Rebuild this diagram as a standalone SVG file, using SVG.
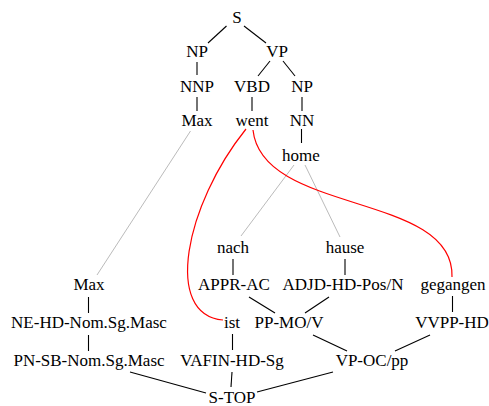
<svg xmlns="http://www.w3.org/2000/svg" width="489" height="406" viewBox="0 0 489 406">
<style>
text{font-family:"Liberation Serif","Times New Roman",serif;font-size:17px;fill:#000;text-anchor:middle}
.e line{stroke:#000;stroke-width:1.1}
.g line{stroke:#bbb;stroke-width:1}
.r path{stroke:#f00;stroke-width:1.2;fill:none}
</style>
<rect width="489" height="406" fill="#fff"/>
<g id="connectors">
<g class="e">
<line x1="226.5" y1="26" x2="208" y2="43"/>
<line x1="244" y1="26" x2="266" y2="43"/>
<line x1="197" y1="62" x2="197" y2="75"/>
<line x1="270" y1="61" x2="258" y2="76"/>
<line x1="283" y1="61" x2="295" y2="76"/>
<line x1="197" y1="97" x2="197" y2="111"/>
<line x1="252" y1="97" x2="252" y2="111"/>
<line x1="302" y1="97" x2="302" y2="111"/>
<line x1="301.5" y1="129" x2="301.5" y2="143"/>
<line x1="233" y1="259" x2="233" y2="275"/>
<line x1="345" y1="259" x2="345" y2="275"/>
<line x1="88.5" y1="297" x2="88.5" y2="313"/>
<line x1="88.5" y1="335" x2="88.5" y2="351"/>
<line x1="249" y1="297" x2="275" y2="313"/>
<line x1="329" y1="297" x2="305" y2="313"/>
<line x1="452.5" y1="296" x2="452.5" y2="312"/>
<line x1="232.5" y1="334" x2="232.5" y2="350"/>
<line x1="313" y1="335" x2="347" y2="351"/>
<line x1="430" y1="335" x2="395" y2="351"/>
<line x1="130" y1="372" x2="206" y2="393"/>
<line x1="232" y1="372" x2="231" y2="387"/>
<line x1="333" y1="372" x2="257" y2="392"/>
</g>
<g class="g">
<line x1="190.5" y1="131" x2="97" y2="275"/>
<line x1="294" y1="165" x2="241" y2="236"/>
<line x1="305" y1="165" x2="340" y2="237"/>
</g>
<g class="r">
<path d="M246,129 C185,205 163,315 223,320"/>
<path d="M253,130 C262,215 455,192 452,277"/>
</g>
</g>
<g id="n_S"><text x="237" y="23">S</text></g>
<g id="n_NP1"><text x="197" y="57">NP</text></g>
<g id="n_VP"><text x="277" y="57">VP</text></g>
<g id="n_NNP"><text x="197" y="91.5">NNP</text></g>
<g id="n_VBD"><text x="252" y="91.5">VBD</text></g>
<g id="n_NP2"><text x="302" y="91.5">NP</text></g>
<g id="n_Max1"><text x="197" y="126">Max</text></g>
<g id="n_went"><text x="252" y="126">went</text></g>
<g id="n_NN"><text x="302" y="126">NN</text></g>
<g id="n_home"><text x="301" y="160.5">home</text></g>
<g id="n_nach"><text x="233" y="253">nach</text></g>
<g id="n_hause"><text x="345" y="253">hause</text></g>
<g id="n_Max2"><text x="89" y="290">Max</text></g>
<g id="n_APPR"><text x="234" y="290">APPR-AC</text></g>
<g id="n_ADJD"><text x="343" y="290">ADJD-HD-Pos/N</text></g>
<g id="n_gegangen"><text x="453" y="290">gegangen</text></g>
<g id="n_NE"><text x="89" y="328">NE-HD-Nom.Sg.Masc</text></g>
<g id="n_ist"><text x="232" y="328">ist</text></g>
<g id="n_PPMO"><text x="289" y="328">PP-MO/V</text></g>
<g id="n_VVPP"><text x="452" y="328">VVPP-HD</text></g>
<g id="n_PN"><text x="89" y="366">PN-SB-Nom.Sg.Masc</text></g>
<g id="n_VAFIN"><text x="232" y="366">VAFIN-HD-Sg</text></g>
<g id="n_VPOC"><text x="372" y="366">VP-OC/pp</text></g>
<g id="n_STOP"><text x="232" y="403">S-TOP</text></g>
</svg>
